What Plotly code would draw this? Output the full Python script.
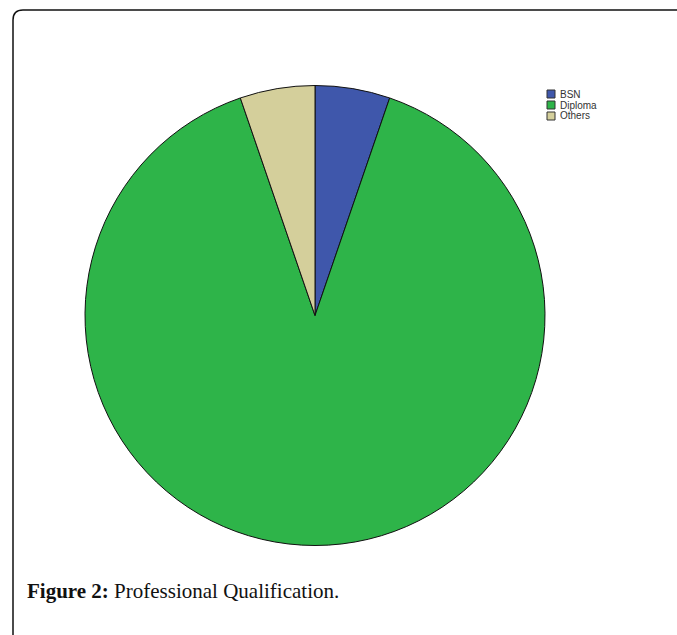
import plotly.graph_objects as go

# Professional qualification of respondents
categories = ["BSN", "Diploma", "Others"]
counts = [3, 51, 3]
colors = ["#3F57AB", "#2EB449", "#D4CF9B"]

W, H = 677, 635


def px(x):
    return x / W


def py(y):
    return 1 - y / H


fig = go.Figure(
    go.Pie(
        labels=categories,
        values=counts,
        sort=False,
        direction="clockwise",
        rotation=0,
        textinfo="none",
        hoverinfo="label+value+percent",
        showlegend=False,
        marker=dict(colors=colors, line=dict(color="#111111", width=1)),
        domain=dict(x=[px(85), px(545)], y=[py(546), py(85)]),
    )
)

# Frame around the figure (open on the right and bottom)
r = 10
frame = (
    f"M {px(13)},{py(H + 2)} L {px(13)},{py(10 + r)} "
    f"Q {px(13)},{py(10)} {px(13 + r)},{py(10)} L {px(W + 2)},{py(10)}"
)
shapes = [
    dict(
        type="path",
        path=frame,
        xref="paper",
        yref="paper",
        line=dict(color="#111111", width=1.5),
    )
]

# Compact legend: one swatch and label per category
annotations = []
leg_x, leg_y, pitch, box = 547, 90, 11, 8
for i, (name, col) in enumerate(zip(categories, colors)):
    top = leg_y + i * pitch
    shapes.append(
        dict(
            type="rect",
            xref="paper",
            yref="paper",
            x0=px(leg_x),
            x1=px(leg_x + box),
            y0=py(top + box),
            y1=py(top),
            fillcolor=col,
            line=dict(color="#333333", width=1),
        )
    )
    annotations.append(
        dict(
            x=px(leg_x + box + 3),
            y=py(top + box / 2),
            xref="paper",
            yref="paper",
            xanchor="left",
            yanchor="middle",
            showarrow=False,
            text=name,
            font=dict(family="Liberation Sans, Arial, sans-serif", size=10, color="#333333"),
        )
    )

annotations.append(
    dict(
        x=px(25),
        y=py(591),
        xref="paper",
        yref="paper",
        xanchor="left",
        yanchor="middle",
        showarrow=False,
        text="<b>Figure 2:</b> Professional Qualification.",
        font=dict(family="Liberation Serif, Times New Roman, serif", size=21, color="#111111"),
    )
)

fig.update_layout(
    width=W,
    height=H,
    margin=dict(l=0, r=0, t=0, b=0),
    paper_bgcolor="white",
    plot_bgcolor="white",
    showlegend=False,
    shapes=shapes,
    annotations=annotations,
)

fig.write_html("out.html")
